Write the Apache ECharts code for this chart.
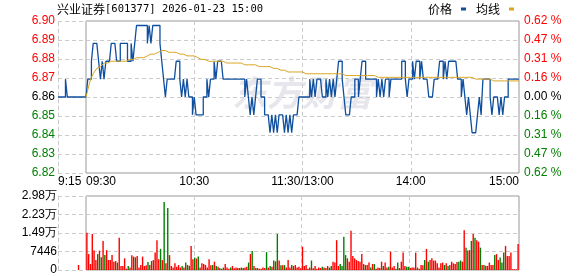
<!DOCTYPE html>
<html><head><meta charset="utf-8">
<script src="https://cdn.jsdelivr.net/npm/echarts@6/dist/echarts.min.js"></script>
<style>html,body{margin:0;padding:0;background:#fff}#c{width:578px;height:276px}</style>
</head><body><div id="c"></div>
<script>
// ---------- data ----------
const PREV_CLOSE = 6.86;
const PRICE_STEP = 0.01063;           // one gridline step in price
const priceTicks = ['6.82','6.83','6.84','6.85','6.86','6.87','6.88','6.89','6.90'];
const pctTicks = ['0.62 %','0.47 %','0.31 %','0.16 %','0.00 %','0.16 %','0.31 %','0.47 %','0.62 %'];
const volTicks = ['0','7446','1.49万','2.23万','2.98万'];
const VOL_MAX = 29784, VOL_STEP = 7446;

const preTimes = ['9:15','9:16','9:17','9:18','9:19','9:20','9:21','9:22','9:23','9:24','9:25','9:26','9:27','9:28','9:29','9:30'];
const prePrice = [6.86,6.86,6.86,6.86,6.87,6.86,6.86,6.86,6.86,6.86,6.86,6.86,6.86,6.86,6.86,6.86];
const preVolume = [0,0,0,0,0,0,0,0,0,0,0,2000,0,0,0,0];

const price = [
6.86,6.87,6.87,6.88,6.89,6.89,6.89,6.88,6.87,6.88,
6.87,6.88,6.88,6.88,6.89,6.89,6.89,6.88,6.88,6.89,
6.89,6.89,6.89,6.88,6.88,6.89,6.88,6.89,6.90,6.90,
6.90,6.90,6.90,6.90,6.89,6.90,6.89,6.90,6.90,6.90,
6.90,6.89,6.88,6.87,6.86,6.87,6.87,6.87,6.87,6.87,
6.88,6.88,6.87,6.86,6.87,6.86,6.87,6.86,6.86,6.85,
6.86,6.85,6.85,6.85,6.85,6.86,6.86,6.87,6.86,6.87,
6.87,6.88,6.87,6.88,6.88,6.88,6.87,6.87,6.87,6.87,
6.87,6.87,6.87,6.87,6.87,6.87,6.87,6.87,6.86,6.87,
6.86,6.85,6.86,6.85,6.86,6.87,6.87,6.86,6.86,6.85,
6.85,6.85,6.84,6.85,6.84,6.85,6.84,6.85,6.85,6.85,
6.84,6.85,6.84,6.85,6.84,6.85,6.85,6.85,6.86,6.86,
6.86,6.86,6.86,6.86,6.87,6.86,6.87,6.86,6.87,6.87,
6.87,6.86,6.86,6.87,6.86,6.87,6.86,6.87,6.86,6.87,
6.88,6.88,6.87,6.86,6.85,6.85,6.85,6.86,6.86,6.87,
6.87,6.86,6.87,6.88,6.88,6.87,6.87,6.87,6.87,6.87,
6.87,6.86,6.87,6.86,6.87,6.86,6.87,6.87,6.86,6.87,
6.87,6.87,6.87,6.87,6.87,6.88,6.88,6.87,6.86,6.87,
6.87,6.88,6.87,6.88,6.88,6.87,6.88,6.87,6.87,6.87,
6.86,6.86,6.86,6.87,6.87,6.87,6.88,6.88,6.87,6.88,
6.87,6.88,6.88,6.88,6.88,6.88,6.87,6.87,6.86,6.87,
6.86,6.85,6.86,6.85,6.84,6.84,6.84,6.85,6.86,6.85,
6.87,6.87,6.87,6.87,6.86,6.85,6.86,6.86,6.86,6.85,
6.86,6.85,6.86,6.86,6.87,6.87,6.87,6.87,6.87,6.87,6.87];

const avgPrice = [
6.860,6.864,6.868,6.871,6.873,6.874,6.876,6.877,6.877,6.878,
6.879,6.879,6.879,6.880,6.880,6.880,6.880,6.880,6.880,6.880,
6.880,6.880,6.880,6.881,6.881,6.881,6.881,6.881,6.882,6.882,
6.882,6.882,6.882,6.883,6.883,6.883,6.884,6.884,6.884,6.885,
6.885,6.886,6.886,6.886,6.886,6.885,6.885,6.885,6.885,6.885,
6.885,6.885,6.884,6.884,6.884,6.884,6.883,6.883,6.883,6.883,
6.883,6.882,6.882,6.882,6.881,6.881,6.881,6.881,6.880,6.880,
6.880,6.880,6.880,6.880,6.880,6.880,6.880,6.880,6.879,6.879,
6.879,6.879,6.879,6.879,6.879,6.879,6.879,6.878,6.878,6.878,
6.878,6.878,6.878,6.878,6.878,6.878,6.877,6.877,6.877,6.877,
6.877,6.877,6.877,6.876,6.876,6.876,6.876,6.875,6.875,6.875,
6.875,6.874,6.874,6.874,6.874,6.874,6.874,6.874,6.874,6.874,
6.874,6.873,6.873,6.873,6.873,6.873,6.873,6.873,6.873,6.873,
6.873,6.873,6.873,6.873,6.873,6.873,6.873,6.873,6.873,6.873,
6.873,6.873,6.873,6.872,6.872,6.872,6.872,6.872,6.872,6.872,
6.872,6.872,6.872,6.872,6.872,6.872,6.872,6.872,6.872,6.872,
6.872,6.871,6.871,6.871,6.871,6.871,6.871,6.871,6.871,6.871,
6.871,6.871,6.871,6.871,6.871,6.871,6.871,6.871,6.871,6.871,
6.871,6.871,6.871,6.871,6.871,6.871,6.871,6.871,6.871,6.871,
6.871,6.871,6.871,6.871,6.871,6.871,6.871,6.871,6.871,6.871,
6.871,6.871,6.871,6.871,6.871,6.871,6.871,6.871,6.871,6.871,
6.871,6.871,6.871,6.871,6.871,6.871,6.870,6.870,6.870,6.870,
6.870,6.870,6.870,6.870,6.870,6.869,6.869,6.869,6.869,6.869,
6.869,6.869,6.869,6.869,6.869,6.869,6.869,6.869,6.869,6.869,6.869];

const volume = [
15000,6400,2400,14500,7800,4000,6400,7800,5100,11700,
6000,8000,4000,4000,6000,3350,3600,3000,13000,1600,
1600,4700,500,1600,1000,5900,5400,5100,5600,1000,
2000,5400,1600,1900,3200,2000,3600,4000,7000,12000,
4300,8500,4000,27400,2700,25000,6000,1600,1000,2700,
1300,2000,1000,1600,1000,3000,2000,1700,9700,4300,
5000,4600,5400,1000,2700,2400,2000,1000,4300,1900,
2000,3350,1600,1300,800,500,1000,2400,1000,500,
1000,1600,700,1000,800,800,1000,800,1000,1300,
3000,6400,7600,1600,800,800,500,500,1000,800,
7200,1000,1600,1300,3800,3500,14500,3800,1900,1900,
2000,1000,4000,1000,2000,1600,2000,1000,1300,700,
9400,1600,2000,500,1000,3800,700,1600,500,1000,
800,1300,1000,800,1600,1000,1600,3350,3000,12000,
1600,2400,1600,13400,6000,4700,3350,15800,5600,4700,
4000,3600,3350,6400,2400,2000,2000,3000,1000,2400,
2400,500,1000,800,3350,1600,3000,1000,1300,7400,
1000,1600,500,3000,800,3350,7000,1600,1300,1300,
800,1000,1000,7000,1000,500,2000,1900,4000,8500,
3350,4000,4700,3800,3800,2700,1000,2700,3000,2000,
2700,1600,2000,3350,2700,2400,3200,3350,3800,3350,
16000,9000,7800,8000,11700,14500,13000,12000,11400,9000,
2000,2000,1700,1600,3000,2000,2000,6000,6400,4000,
5000,3000,7000,9700,5600,5600,7000,300,300,300,10500];
// r = rising minute (red bar), g = falling minute (green bar)
const volumeDir = (
'rrrrrrgrgr'+'grrrrrrgrr'+'rrrgrrrgrr'+'rrrrgrgrrr'+'rgrgrgrrrr'+'rrrgrgrgrr'+
'grgrrrrrrr'+'grgrgrgrrr'+'grrrrgrgrr'+'grgrgrrrrr'+'grgrgrgrgr'+'grrrgrrrrr'+
'rrrrrgrrrr'+'rgrrrggrrr'+'rggggrrrrr'+'rrrrrgrrgr'+'grrrrgrrgr'+'rrggrrrrgg'+
'rrrrgrrrgr'+'grrrrrrrrg'+'rgrrrrrggr'+'rgrrgrgrrg'+'rgrrrrrgrr'+'gggrrrrrrrr').split('');

// ---------- helpers ----------
const toStep = p => +((p - PREV_CLOSE) / PRICE_STEP).toFixed(4);
const times = [];
for (let h = 9, m = 30; ; ) {
  times.push((h < 10 ? '0' : '') + h + ':' + (m < 10 ? '0' : '') + m);
  if (h === 11 && m === 30) break;
  m++; if (m === 60) { m = 0; h++; }
}
times[times.length - 1] = '11:30/13:00';
for (let h = 13, m = 1; ; ) {
  times.push(h + ':' + (m < 10 ? '0' : '') + m);
  if (h === 15 && m === 0) break;
  m++; if (m === 60) { m = 0; h++; }
}
const shownTimeIdx = [0, 60, 120, 180, 240];
const RED = '#ff0000', GREEN = '#008000', BLUE = '#0f4f9f', GOLD = '#daa520';
const FONT = 'Liberation Sans';
const dash = { color: '#cccccc', type: [4, 3], width: 1 };
const sideColor = v => { const n = Math.round(Number(v)); return n > 0 ? RED : (n < 0 ? GREEN : '#000'); };

const chart = echarts.init(document.getElementById('c'), null, { renderer: 'canvas' });
chart.setOption({
  animation: false,
  backgroundColor: '#fff',
  title: {
    text: '{a|兴业证券}{b|[601377] 2026-01-23 15:00}',
    left: 57, top: 3, padding: 0,
    textStyle: { fontWeight: 'normal', rich: {
      a: { fontFamily: 'Noto Sans CJK SC', fontSize: 12, color: '#000', fontWeight: 'normal' },
      b: { fontFamily: 'DejaVu Sans Mono', fontSize: 10.5, color: '#000', fontWeight: 'normal' } } }
  },
  legend: {
    data: ['价格', '均线'], right: 64, top: 3, padding: 0, align: 'right',
    itemWidth: 5, itemHeight: 3, itemGap: 10, icon: 'rect',
    textStyle: { fontFamily: 'Noto Sans CJK SC', fontSize: 12, color: '#000', padding: [0, 4, 0, 0] }
  },
  graphic: [{
    type: 'text', left: 232, top: 75, z: 0, silent: true,
    style: { text: '东方财富', font: 'italic bold 35px "Noto Sans CJK SC"', fill: '#e6e6ec' }
  }],
  grid: [
    { left: 58, top: 21, width: 28, height: 152 },
    { left: 86, top: 21, width: 433, height: 152, show: true, borderColor: '#999', borderWidth: 1 },
    { left: 58, top: 196, width: 28, height: 74 },
    { left: 86, top: 196, width: 433, height: 74, show: true, borderColor: '#999', borderWidth: 1 }
  ],
  xAxis: [
    { gridIndex: 0, type: 'category', data: preTimes, boundaryGap: false,
      axisLine: { show: false }, axisTick: { show: false },
      axisLabel: { interval: i => i === 0, alignMinLabel: 'left', showMaxLabel: false, margin: 3,
        fontFamily: FONT, fontSize: 12, color: '#000' } },
    { gridIndex: 1, type: 'category', data: times, boundaryGap: false,
      axisLine: { show: false }, axisTick: { show: false },
      splitLine: { show: true, interval: i => i === 60 || i === 120 || i === 180, lineStyle: dash },
      axisLabel: { interval: i => shownTimeIdx.includes(i), showMinLabel: true, showMaxLabel: true,
        alignMinLabel: 'left', alignMaxLabel: 'right', margin: 3,
        fontFamily: FONT, fontSize: 12, color: '#000' } },
    { gridIndex: 2, type: 'category', data: preTimes, boundaryGap: false,
      axisLine: { show: false }, axisTick: { show: false }, axisLabel: { show: false } },
    { gridIndex: 3, type: 'category', data: times, boundaryGap: true,
      axisLine: { show: false }, axisTick: { show: false }, axisLabel: { show: false },
      splitLine: { show: true, interval: i => i === 60 || i === 120 || i === 180, lineStyle: dash } }
  ],
  yAxis: [
    { gridIndex: 0, type: 'value', min: -4, max: 4, interval: 1,
      axisLine: { show: true, lineStyle: dash }, axisTick: { show: false },
      splitLine: { show: true, lineStyle: dash },
      axisLabel: { margin: 3, fontFamily: FONT, fontSize: 12,
        formatter: v => priceTicks[Math.round(v) + 4], color: sideColor } },
    { gridIndex: 1, type: 'value', min: -4, max: 4, interval: 1,
      axisLine: { show: false }, axisTick: { show: false }, axisLabel: { show: false },
      splitLine: { show: true, lineStyle: dash } },
    { gridIndex: 1, type: 'value', position: 'right', min: -4, max: 4, interval: 1,
      axisLine: { show: false }, axisTick: { show: false }, splitLine: { show: false },
      axisLabel: { margin: 5, fontFamily: FONT, fontSize: 12,
        formatter: v => pctTicks[Math.round(v) + 4], color: sideColor } },
    { gridIndex: 2, type: 'value', min: 0, max: VOL_MAX, interval: VOL_STEP,
      axisLine: { show: true, lineStyle: dash }, axisTick: { show: false },
      splitLine: { show: true, lineStyle: dash },
      axisLabel: { margin: 1, fontFamily: FONT, fontSize: 12, color: '#000',
        formatter: v => volTicks[Math.round(v / VOL_STEP)] } },
    { gridIndex: 3, type: 'value', min: 0, max: VOL_MAX, interval: VOL_STEP,
      axisLine: { show: false }, axisTick: { show: false }, axisLabel: { show: false },
      splitLine: { show: true, lineStyle: dash } }
  ],
  series: [
    { name: '价格', type: 'line', xAxisIndex: 0, yAxisIndex: 0, data: prePrice.map(toStep),
      symbol: 'none', step: 'end', lineStyle: { color: BLUE, width: 1.3 }, itemStyle: { color: BLUE } },
    { name: '价格', type: 'line', xAxisIndex: 1, yAxisIndex: 1, data: price.map(toStep),
      symbol: 'none', step: 'end', lineStyle: { color: BLUE, width: 1.3 }, itemStyle: { color: BLUE } },
    { name: '均线', type: 'line', xAxisIndex: 1, yAxisIndex: 1, data: avgPrice.map(toStep),
      symbol: 'none', lineStyle: { color: GOLD, width: 1 }, itemStyle: { color: GOLD } },
    { type: 'bar', xAxisIndex: 2, yAxisIndex: 3, data: preVolume, barWidth: 1.4,
      itemStyle: { color: RED } },
    { type: 'bar', xAxisIndex: 3, yAxisIndex: 4, data: volume, barWidth: 1.4,
      itemStyle: { color: p => volumeDir[p.dataIndex] === 'g' ? GREEN : RED } }
  ]
});
</script></body></html>
